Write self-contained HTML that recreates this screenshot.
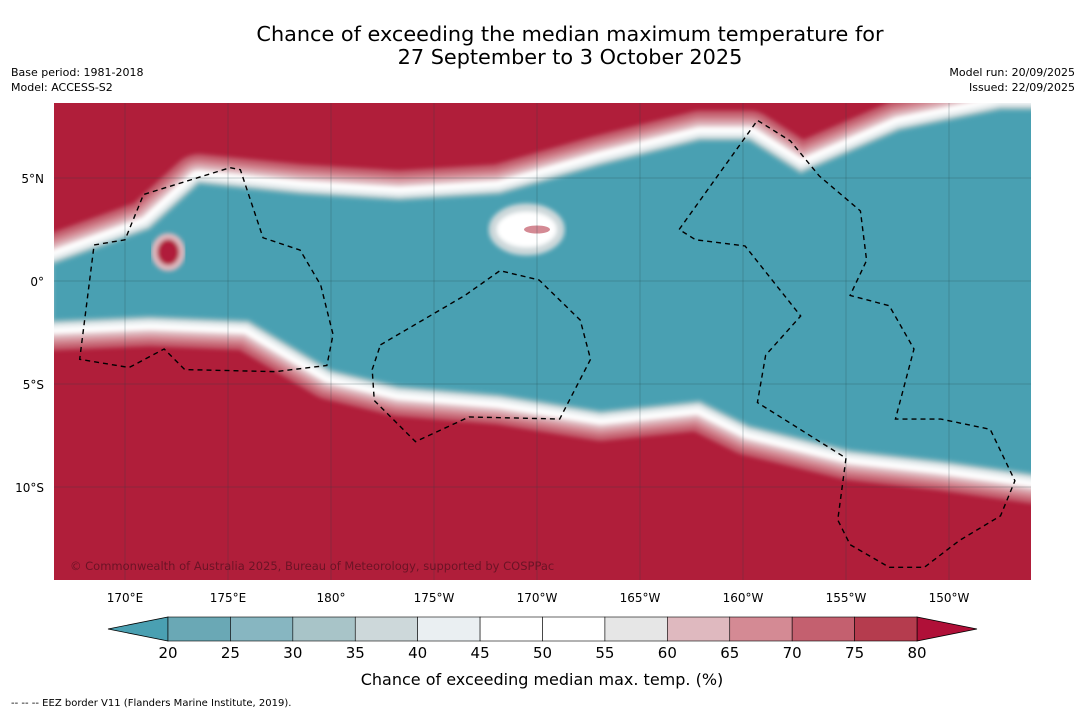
<!DOCTYPE html>
<html><head><meta charset="utf-8">
<style>
html,body{margin:0;padding:0;background:#fff;}
body{width:1085px;height:713px;overflow:hidden;font-family:"DejaVu Sans","Liberation Sans",sans-serif;}
</style></head>
<body>
<svg id="chart" width="1085" height="713" viewBox="0 0 1085 713" xmlns="http://www.w3.org/2000/svg" font-family="DejaVu Sans, Liberation Sans, sans-serif">
  <text x="570" y="41" font-size="20.8" text-anchor="middle" fill="#000">Chance of exceeding the median maximum temperature for</text>
  <text x="570" y="64" font-size="20.8" text-anchor="middle" fill="#000">27 September to 3 October 2025</text>
  <text x="11" y="76" font-size="11">Base period: 1981-2018</text>
  <text x="11" y="91" font-size="11">Model: ACCESS-S2</text>
  <text x="1075" y="76" font-size="11" text-anchor="end">Model run: 20/09/2025</text>
  <text x="1075" y="91" font-size="11" text-anchor="end">Issued: 22/09/2025</text>
  <defs>
    <clipPath id="mapclip"><rect x="54" y="103" width="977" height="477"/></clipPath>
    <filter id="soft" x="-10%" y="-30%" width="120%" height="160%"><feGaussianBlur stdDeviation="2"/></filter>
  </defs>
  <g id="map" clip-path="url(#mapclip)"></g>
  <g id="axes"></g>
  <g id="cbar"></g>
  <text x="542" y="685" font-size="16" text-anchor="middle">Chance of exceeding median max. temp. (%)</text>
  <text x="11" y="706" font-size="10">--  --  -- EEZ border V11 (Flanders Marine Institute, 2019).</text>
</svg>
<script>
const lonTicks=[170,175,180,185,190,195,200,205,210];
const lonLabels=["170°E","175°E","180°","175°W","170°W","165°W","160°W","155°W","150°W"];
const latTicks=[5,0,-5,-10];
const latLabels=["5°N","0°","5°S","10°S"];
const cbarLevels=[20,25,30,35,40,45,50,55,60,65,70,75,80];
const cbarColors=["#6aa8b5","#87b6c1","#a8c4c8","#cdd8da","#eaeff2","#ffffff","#ffffff","#e6e6e6","#dfb9bf","#d48a94","#c4606f","#b53c4e"];
const northLon=[166.5,171.2,173.6,178.5,183.3,188.2,193.1,197.9,200.3,202.8,207.6,212.5,214.5];
const northLat=[0.8,2.5,4.7,4.2,3.9,4.2,5.6,6.8,6.8,5.2,7.3,8.3,8.3];
const southLon=[166.5,171.2,176.0,180.0,183.3,188.2,193.1,197.9,200.3,205.2,209.6,214.5];
const southLat=[-1.9,-1.7,-1.9,-4.3,-5.1,-5.5,-6.3,-5.8,-7.0,-8.2,-8.7,-9.4];
const eez1Lon=[168.5,170.0,170.9,175.1,175.6,176.7,178.5,179.5,180.1,179.8,177.3,172.9,171.9,170.2,167.8,168.5];
const eez1Lat=[1.75,2.0,4.2,5.5,5.4,2.1,1.5,-0.2,-2.6,-4.1,-4.4,-4.3,-3.3,-4.2,-3.8,1.75];
const eez2Lon=[182.4,186.5,188.2,190.1,192.1,192.6,191.1,186.7,184.1,182.1,182.0,182.4];
const eez2Lat=[-3.1,-0.7,0.5,0.05,-1.9,-3.8,-6.7,-6.6,-7.8,-5.8,-4.3,-3.1];
const eez3Lon=[196.9,200.7,202.3,203.7,205.7,206.0,205.2,207.1,208.3,207.4,209.6,212.0,213.2,212.5,210.5,208.8,207.1,205.2,204.6,205.0,200.7,201.1,202.8,200.1,197.7,196.9];
const eez3Lat=[2.5,7.8,6.8,5.1,3.4,1.0,-0.7,-1.2,-3.3,-6.7,-6.7,-7.2,-9.7,-11.4,-12.6,-13.9,-13.9,-12.8,-11.6,-8.6,-5.9,-3.6,-1.7,1.7,2.0,2.5];

const NS="http://www.w3.org/2000/svg";
const px=lon=>331+(lon-180)*20.6;
const py=lat=>281-lat*20.6;
function mk(tag,attrs,parent){const e=document.createElementNS(NS,tag);for(const k in attrs)e.setAttribute(k,attrs[k]);parent.appendChild(e);return e;}
const map=document.getElementById('map');
const bg=mk('rect',{x:54,y:103,width:977,height:477,fill:"#b01e3a"},map);


let pts=[];
northLon.forEach((l,i)=>pts.push(px(l)+","+py(northLat[i])));
for(let i=southLon.length-1;i>=0;i--)pts.push(px(southLon[i])+","+py(southLat[i]));
const halo=[[60,"#c4606f"],[48,"#d48a94"],[38,"#dfb9bf"],[28,"#ffffff"],[16,"#e6ecee"],[7,"#a8c4c8"]];
const hg=mk('g',{filter:"url(#soft)"},map);
halo.forEach(h=>{
  const p=mk('polygon',{points:pts.join(" "),fill:h[1],stroke:h[1],"stroke-width":h[0],"stroke-linejoin":"round"},hg);
  
  
});
const teal=mk('polygon',{points:pts.join(" "),fill:"#4aa0b2",filter:"url(#soft)"},map);


const blob=mk('ellipse',{cx:px(172.1),cy:py(1.4),rx:14,ry:16,fill:"#b01e3a",stroke:"#dfb9bf","stroke-width":6,filter:"url(#soft)"},map);


const pale=mk('ellipse',{cx:px(189.5),cy:py(2.5),rx:34,ry:22,fill:"#ffffff",stroke:"#cdd8da","stroke-width":8,filter:"url(#soft)"},map);


mk('ellipse',{cx:px(190),cy:py(2.5),rx:13,ry:4,fill:"#d48a94"},map);
lonTicks.forEach(l=>{const g=mk('line',{x1:px(l),x2:px(l),y1:103,y2:580,stroke:"#1f3f45","stroke-width":0.5,"stroke-opacity":0.5},map);
});
latTicks.forEach(l=>{const g=mk('line',{x1:54,x2:1031,y1:py(l),y2:py(l),stroke:"#1f3f45","stroke-width":0.5,"stroke-opacity":0.5},map);
});
[[eez1Lon,eez1Lat],[eez2Lon,eez2Lat],[eez3Lon,eez3Lat]].forEach(([lo,la])=>{
  const p=mk('polyline',{points:lo.map((l,i)=>px(l)+","+py(la[i])).join(" "),fill:"none",stroke:"#000","stroke-width":1.4,"stroke-dasharray":"5,4"},map);
  
  
});
const cp=mk('text',{x:70,y:570,"font-size":11.5,fill:"#5a1020","fill-opacity":0.8},map);
cp.textContent="© Commonwealth of Australia 2025, Bureau of Meteorology, supported by COSPPac";


const axes=document.getElementById('axes');
lonTicks.forEach((l,i)=>{const t=mk('text',{x:px(l),y:602,"font-size":12,"text-anchor":"middle"},axes);t.textContent=lonLabels[i];
});
latTicks.forEach((l,i)=>{const t=mk('text',{x:44,y:py(l)+5,"font-size":12,"text-anchor":"end"},axes);t.textContent=latLabels[i];
});
const cb=document.getElementById('cbar');
const cx0=168,cx1=917,cy=617,ch=24;
const cxs=v=>cx0+(v-cbarLevels[0])/(cbarLevels[cbarLevels.length-1]-cbarLevels[0])*(cx1-cx0);
const lt=mk('polygon',{points:`${cx0},${cy} ${cx0},${cy+ch} 108,${cy+ch/2}`,fill:"#4aa0b2",stroke:"#000","stroke-width":0.8},cb);

const rt=mk('polygon',{points:`${cx1},${cy} ${cx1},${cy+ch} 977,${cy+ch/2}`,fill:"#b01038",stroke:"#000","stroke-width":0.8},cb);

cbarColors.forEach((c,i)=>{const r=mk('rect',{x:cxs(cbarLevels[i]),y:cy,width:cxs(cbarLevels[i+1])-cxs(cbarLevels[i]),height:ch,fill:c,stroke:"#000","stroke-width":0.6},cb);
});
cbarLevels.forEach(v=>{const t=mk('text',{x:cxs(v),y:658,"font-size":15,"text-anchor":"middle"},cb);t.textContent=v;
});
</script>
</body></html>
